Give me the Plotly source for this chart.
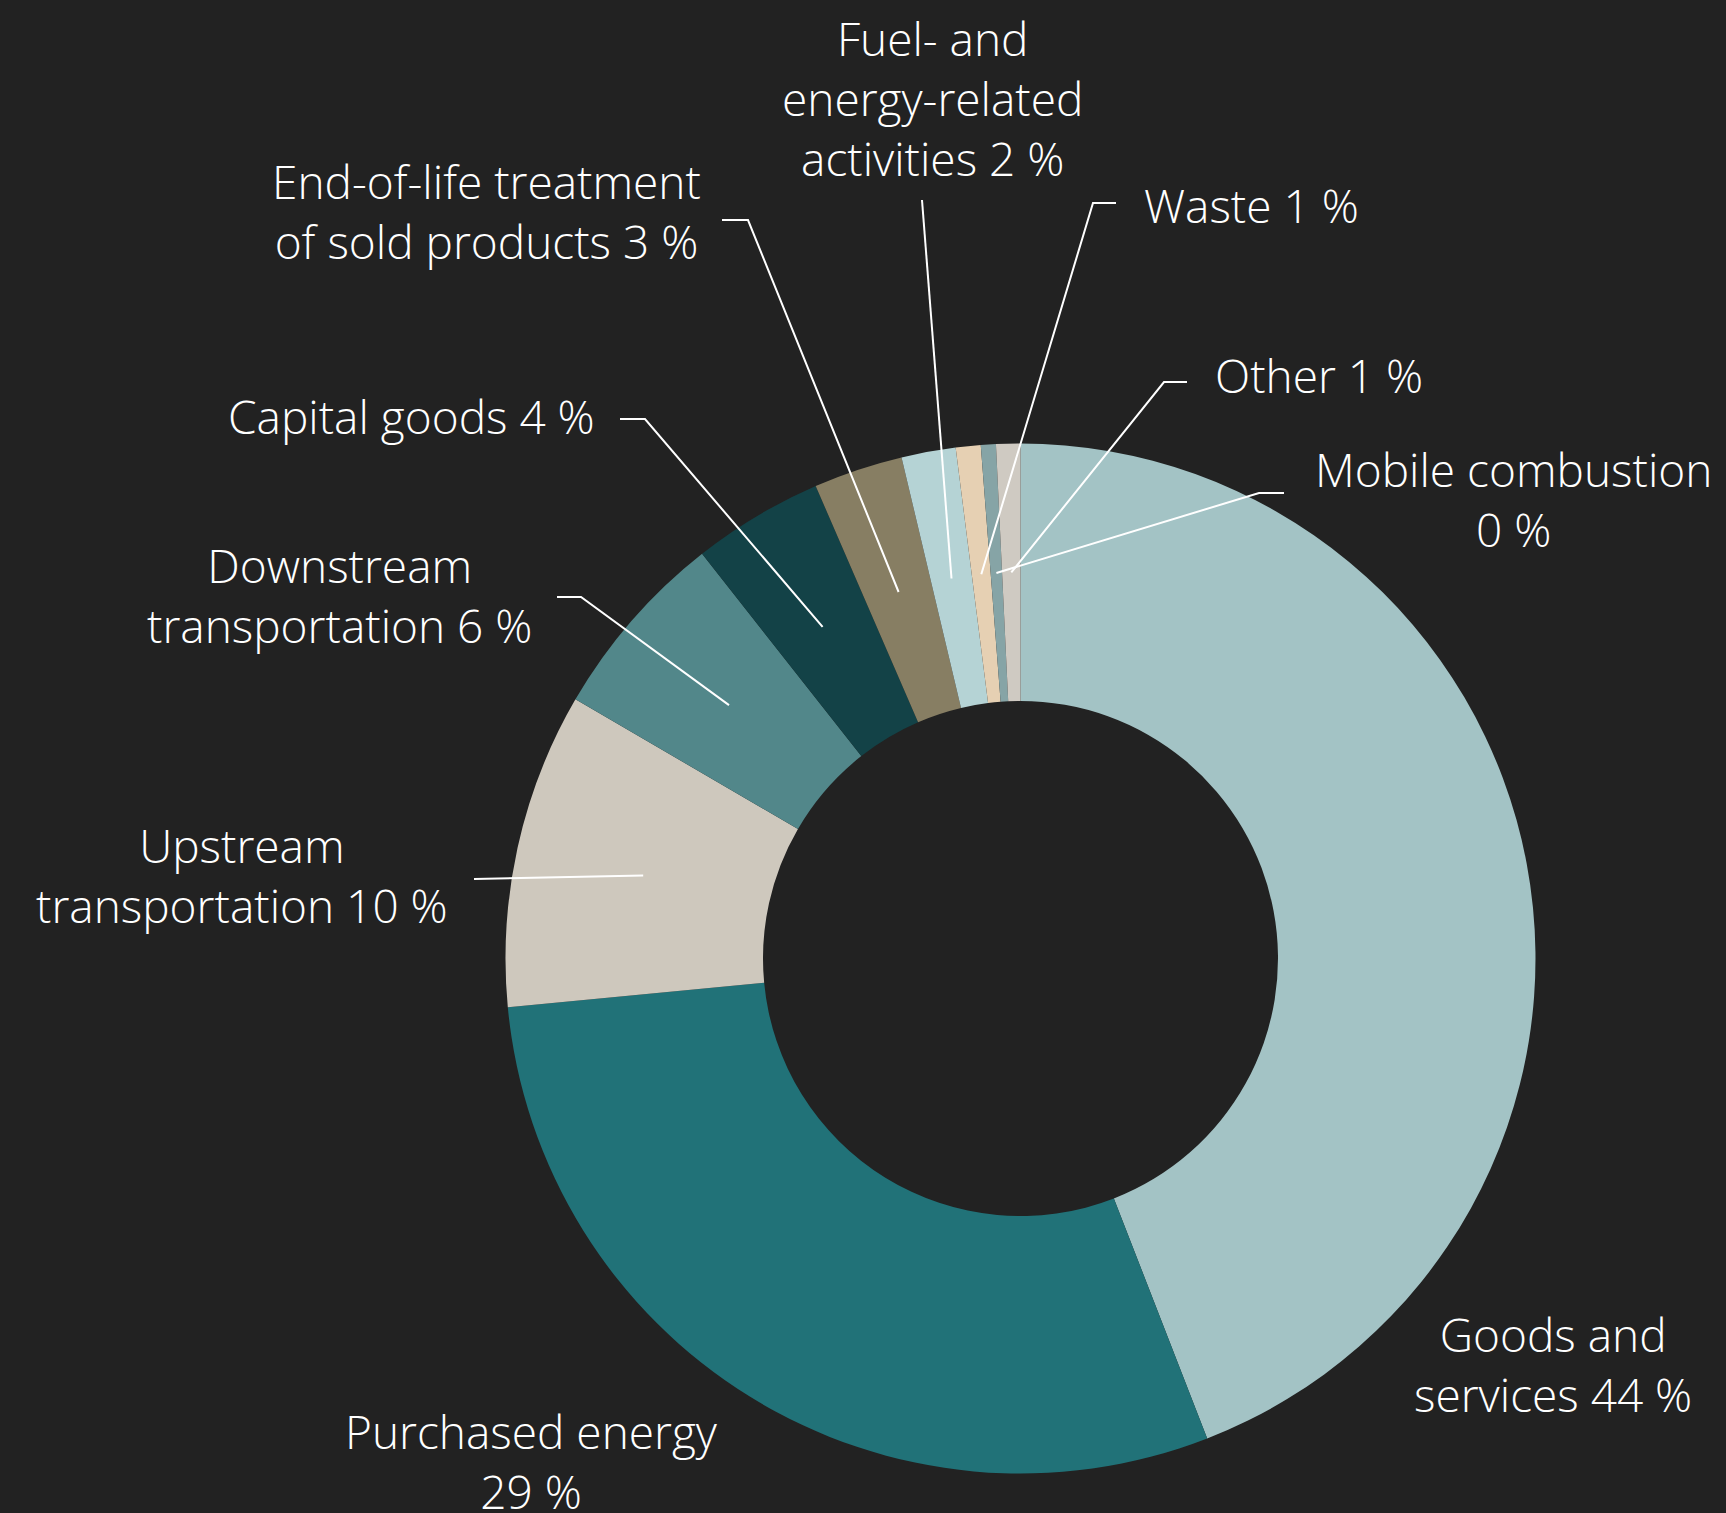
import math
import plotly.graph_objects as go

# ---- data ----
categories = [
    "Goods and services", "Purchased energy", "Upstream transportation",
    "Downstream transportation", "Capital goods",
    "End-of-life treatment of sold products", "Fuel- and energy-related activities",
    "Waste", "Mobile combustion", "Other",
]
values = [44.1, 29.4, 9.9, 6.0, 4.1, 2.8, 1.7, 0.78, 0.47, 0.76]
label_names = [
    "Goods and<br>services", "Purchased energy", "Upstream<br>transportation",
    "Downstream<br>transportation", "Capital goods",
    "End-of-life treatment<br>of sold products", "Fuel- and<br>energy-related<br>activities",
    "Waste", "Mobile combustion", "Other",
]
label_sep = [" ", "<br>", " ", " ", " ", " ", " ", " ", "<br>", " "]
colors = ["#a3c3c5", "#217278", "#cec8bd", "#52878a", "#134247",
          "#877e63", "#b5d3d5", "#e6d0b3", "#86a4a6", "#cfcac2"]

# ---- layout constants (pixels) ----
W, H = 1726, 1513
CX, CY, R = 1020.5, 958.5, 515.0
HOLE = 0.5
BG = "#222222"
FONT = dict(family="Open Sans, Noto Sans, sans-serif", size=46, color="white", weight=300)

# label placement: (x, y, xanchor)
label_pos = [
    (1553, 1364, "center"), (531, 1461, "center"), (242, 875, "center"),
    (339, 595, "center"), (597, 416, "right"), (486, 211, "center"),
    (932, 98, "center"), (1142, 205, "left"), (1513, 499, "center"),
    (1213, 375, "left"),
]
# leader line start points and knees (None = no leader)
leader_pts = [
    None, None,
    [(474, 879)],
    [(557, 597), (581, 597)],
    [(620, 419), (645, 419)],
    [(722, 220), (748, 220)],
    [(922, 200)],
    [(1116, 203), (1093, 203)],
    [(1284, 493), (1259, 493)],
    [(1187, 382), (1164, 382)],
]

fig = go.Figure()
fig.add_trace(go.Pie(
    labels=categories, values=values, sort=False, direction="clockwise",
    rotation=0, hole=HOLE, textinfo="none", hoverinfo="label+percent",
    marker=dict(colors=colors, line=dict(width=0)),
    domain=dict(x=[(CX - R) / W, (CX + R) / W], y=[(H - CY - R) / H, (H - CY + R) / H]),
    showlegend=False,
))
fig.add_trace(go.Scatter(x=[], y=[], showlegend=False, hoverinfo="skip"))

total = sum(values)
cum = 0.0
shapes, annotations = [], []
for i, v in enumerate(values):
    mid = (cum + v / 2) / total
    cum += v
    ang = 2 * math.pi * mid
    rr = R * (1 + HOLE) / 2
    ex, ey = CX + rr * math.sin(ang), CY - rr * math.cos(ang)
    x, y, xa = label_pos[i]
    text = f"{label_names[i]}{label_sep[i]}{round(v)} %"
    annotations.append(dict(x=x, y=y, xref="x", yref="y", text=text, showarrow=False,
                            xanchor=xa, yanchor="middle", align=xa,
                            font=FONT))
    if leader_pts[i]:
        pts = leader_pts[i] + [(ex, ey)]
        path = "M " + " L ".join(f"{px:.1f},{py:.1f}" for px, py in pts)
        shapes.append(dict(type="path", path=path, xref="x", yref="y",
                           line=dict(color="white", width=2), layer="above"))

fig.update_layout(
    width=W, height=H, margin=dict(l=0, r=0, t=0, b=0),
    paper_bgcolor=BG, plot_bgcolor="rgba(0,0,0,0)",
    xaxis=dict(range=[0, W], visible=False, fixedrange=True, domain=[0, 1]),
    yaxis=dict(range=[H, 0], visible=False, fixedrange=True, domain=[0, 1]),
    shapes=shapes, annotations=annotations,
)
fig.write_html(
    "out.html",
    config={"displayModeBar": False},
    post_script="document.body.style.margin='0';document.body.style.background='%s';" % BG,
)
